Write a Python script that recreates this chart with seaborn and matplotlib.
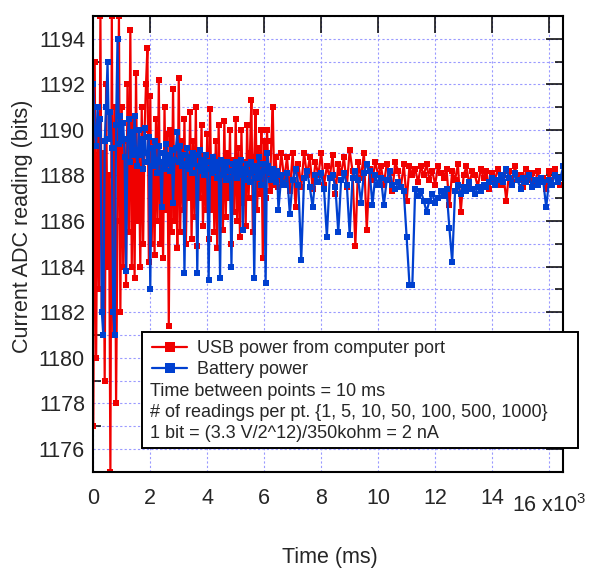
import numpy as np
import pandas as pd
import seaborn as sns
import matplotlib.pyplot as plt
from matplotlib.lines import Line2D
from matplotlib.patches import Rectangle
from matplotlib.ticker import MultipleLocator

sns.set_theme(style="white")
plt.rcParams["font.family"] = ["Liberation Sans", "DejaVu Sans"]
plt.rcParams["mathtext.fontset"] = "custom"
plt.rcParams["mathtext.rm"] = "Liberation Sans"

# first 6.5 s read every 50 ms, the rest every 100 ms
t_early = np.arange(0, 6500, 50)
t_late = np.arange(6500, 16600, 100)

usb_early = [
    1177, 1193, 1180, 1190, 1183, 1195, 1182, 1189, 1179, 1192,
    1184, 1188, 1175, 1195, 1181, 1191, 1178, 1186, 1195, 1182,
    1191, 1184, 1189.5, 1183.2, 1192, 1185.5, 1194.4, 1184, 1190.5, 1183.5,
    1192.5, 1186, 1189, 1184, 1191, 1185, 1190, 1192, 1193.6, 1184.2,
    1191.5, 1185, 1189.5, 1184.5, 1190.5, 1186, 1192.2, 1185, 1188.5, 1184.4,
    1191, 1186.5, 1189.8, 1181.4, 1190, 1185.5, 1191.8, 1186, 1189, 1184.8,
    1192.3, 1185.5, 1189.5, 1186.5, 1190.5, 1185, 1188.8, 1187, 1190.8, 1185.2,
    1189.5, 1186.2, 1191, 1184.9, 1189, 1187, 1190.2, 1185.8, 1188.5, 1186.5,
    1189.8, 1185.2, 1190.9, 1186.5, 1188.8, 1185.5, 1189.5, 1184.8, 1190.2, 1186.8,
    1188.5, 1185.6, 1190.4, 1186.2, 1189, 1187, 1190, 1185, 1188.7, 1186.4,
    1190.5, 1186, 1189.2, 1185.3, 1190, 1186.8, 1188.6, 1185.8, 1190.2, 1187,
    1189, 1191.3, 1185.5, 1188.8, 1190.8, 1186.5, 1189.2, 1187.2, 1190, 1184.4,
    1189.5, 1187, 1190, 1188, 1187.3, 1189.5, 1191, 1187.6, 1188.8, 1187.8,
]
usb_late = [
    1187.5, 1189, 1187.8, 1188.8, 1187.3,
    1189, 1186.6, 1188.5, 1187.5, 1189, 1188, 1188.8, 1187.4, 1188.6, 1188,
    1189, 1187.6, 1188.4, 1187.9, 1188.9, 1187.2, 1188.5, 1188.1, 1188.8, 1187.5,
    1189.1, 1188.2, 1184.9, 1188.6, 1187.9, 1189, 1185.6, 1188.3, 1187.8, 1188.6,
    1188, 1188.4, 1187.6, 1188.5, 1188.1, 1187.3, 1188.6, 1188.2, 1187.5, 1188.5,
    1186.9, 1188.4, 1188, 1188.3, 1187.7, 1188.4, 1188.0, 1188.5, 1187.8, 1188.2,
    1187.6, 1188.4, 1188.1, 1187.9, 1188.3, 1186.7, 1188.2, 1187.8, 1188.5, 1186.4,
    1188.0, 1188.4, 1187.6, 1188.2, 1188.0, 1187.5, 1188.3, 1187.9, 1188.2, 1187.4,
    1188.1, 1187.8, 1188.3, 1187.6, 1188.0, 1186.9, 1188.2, 1187.7, 1188.4, 1187.9,
    1188.0, 1187.5, 1188.3, 1187.8, 1188.1, 1187.6, 1188.2, 1187.7, 1187.9, 1187.4,
    1188.2, 1187.6, 1188.3, 1187.8, 1187.6, 1187.6,
]

battery_early = [
    1192, 1190, 1189.3, 1191, 1189.8, 1190.5, 1182, 1181, 1189.5, 1191,
    1193, 1189.6, 1190.8, 1189.2, 1182, 1181, 1190.2, 1194, 1189.4, 1190.6,
    1189.5, 1190.3, 1188.8, 1183.8, 1189.6, 1190.5, 1188.6, 1189.9, 1188.9, 1190.6,
    1189.1, 1188.4, 1190, 1188.9, 1189.6, 1188.3, 1190.1, 1189, 1188.6, 1189.7,
    1183, 1189.2, 1188.4, 1189.5, 1188.7, 1188.1, 1189.3, 1188.6, 1186.6, 1189,
    1188.3, 1189.4, 1188.5, 1188.9, 1188.2, 1189.1, 1186.8, 1188.7, 1189.2, 1189.9,
    1188.6, 1189.3, 1188.4, 1188.9, 1183.7, 1188.5, 1189.2, 1188.3, 1188.8, 1188.1,
    1189, 1188.5, 1188.9, 1183.7, 1188.4, 1189.1, 1188.2, 1188.7, 1188.0, 1188.9,
    1188.3, 1183.4, 1188.6, 1188.1, 1188.8, 1188.2, 1188.6, 1187.9, 1188.5, 1183.5,
    1188.7, 1188.0, 1188.4, 1187.8, 1188.6, 1188.2, 1187.9, 1184, 1188.5, 1188.1,
    1188.6, 1187.9, 1188.4, 1188.0, 1188.7, 1185.6, 1188.3, 1187.8, 1188.5, 1188.1,
    1187.7, 1188.6, 1188.2, 1183.5, 1188.4, 1187.9, 1188.8, 1188.1, 1187.6, 1188.5,
    1188.2, 1183.3, 1189, 1188.4, 1188.1, 1187.8, 1188.3, 1188.0, 1187.7, 1188.2,
]
battery_late = [
    1186.5, 1188, 1187.6, 1188.1, 1186.3,
    1187.8, 1188.3, 1187.6, 1184.3, 1187.9, 1188.2, 1187.5, 1186.6, 1188, 1187.7,
    1188.1, 1187.4, 1185.3, 1187.9, 1188, 1187.5, 1185.5, 1187.8, 1188.1, 1187.6,
    1185.4, 1187.9, 1188.2, 1187.8, 1186.8, 1188.1, 1188.5, 1188.2, 1186.7, 1188,
    1187.6, 1187.9, 1186.7, 1187.8, 1188.2, 1187.6, 1187.4, 1187.7, 1187.5, 1187.3,
    1185.3, 1183.2, 1183.2, 1187.4, 1187.1, 1187.3, 1186.9, 1186.4, 1186.9, 1187.2,
    1186.8, 1187.0, 1187.3, 1187.1, 1187.4, 1185.7, 1184.2, 1187.3, 1187.6, 1187.2,
    1187.5, 1187.3, 1187.7, 1187.4, 1187.2, 1187.5, 1187.3, 1187.6, 1187.5, 1187.7,
    1187.9, 1187.6, 1187.8, 1188.0, 1187.7, 1188.3, 1187.9, 1187.6, 1188.1, 1187.8,
    1187.4, 1187.9, 1187.7, 1188.0, 1187.5, 1187.8, 1187.6, 1187.9, 1187.7, 1186.6,
    1187.8, 1187.6, 1188.0, 1187.7, 1187.9, 1188.4,
]

x_ticks = [0, 2000, 4000, 6000, 8000, 10000, 12000, 14000, 16000]
x_labels = ["0", "2", "4", "6", "8", "10", "12", "14", ""]

legend_labels = ["USB power from computer port", "Battery power"]
notes = [
    "Time between points = 10 ms",
    "# of readings per pt. {1, 5, 10, 50, 100, 500, 1000}",
    "1 bit = (3.3 V/2^12)/350kohm = 2 nA",
]

red = "#f00000"
blue = "#0040d0"

t_all = np.concatenate([t_early, t_late])
df_usb = pd.DataFrame({"t": t_all, "v": usb_early + usb_late})
df_bat = pd.DataFrame({"t": t_all, "v": battery_early + battery_late})

W, H = 592, 570
fig = plt.figure(figsize=(W / 100, H / 100), dpi=100)
ax = fig.add_axes([93.3 / W, 1 - 471.7 / H, 470 / W, 455.7 / H])

sns.lineplot(data=df_usb, x="t", y="v", ax=ax, color=red, lw=1.6,
             marker="s", markersize=4.2, markeredgewidth=0, estimator=None)
sns.lineplot(data=df_bat, x="t", y="v", ax=ax, color=blue, lw=1.6,
             marker="s", markersize=4.2, markeredgewidth=0, estimator=None)

ax.set_xlim(0, 16500)
ax.set_ylim(1175, 1195)
ax.set_xticks(x_ticks)
ax.set_xticklabels(x_labels)
ax.yaxis.set_major_locator(MultipleLocator(2))
ax.yaxis.set_minor_locator(MultipleLocator(1))
ax.set_xlabel("")
ax.set_ylabel("")

gc = "#9a9aff"
ax.grid(True, which="major", axis="x", color=gc, lw=0.8, ls=(0, (2, 2)))
ax.grid(True, which="both", axis="y", color=gc, lw=0.8, ls=(0, (2, 2)))
ax.set_axisbelow(True)

for s in ax.spines.values():
    s.set_visible(True)
    s.set_color("black")
    s.set_linewidth(1.5)

ax.tick_params(axis="both", which="major", direction="in", length=12, width=1.1,
               top=True, right=True, color="black", labelsize=15.5)
ax.tick_params(axis="y", which="minor", direction="in", length=5.5, width=1.1,
               left=True, right=True, color="black")
ax.tick_params(axis="x", which="major", pad=11.5)
ax.tick_params(axis="y", which="major", pad=6)

fig.text(512 / W, 1 - 506 / H, "16 x10$^{3}$", fontsize=15.5, ha="left", va="center")
fig.text(330 / W, 1 - 558 / H, "Time (ms)", fontsize=15.5, ha="center", va="center")
fig.text(23 / W, 1 - 226 / H, "Current ADC reading (bits)", fontsize=15.5,
         rotation=90, ha="center", va="center")

# annotation box
box = Rectangle((142 / W, 1 - 448 / H), 436 / W, 116 / H, transform=fig.transFigure,
                facecolor="white", edgecolor="black", lw=1.4, zorder=10, clip_on=False)
fig.add_artist(box)

handles = [
    Line2D([], [], color=red, lw=1.6, marker="s", markersize=6.5, markeredgewidth=0),
    Line2D([], [], color=blue, lw=1.6, marker="s", markersize=6.5, markeredgewidth=0),
]
leg = fig.legend(handles, legend_labels, loc="upper left",
                 bbox_to_anchor=(152 / W, 1 - 340 / H), frameon=False, fontsize=13,
                 handlelength=1.95, handletextpad=0.55, borderpad=0, borderaxespad=0,
                 labelspacing=0.24)
leg.set_zorder(11)

for row_y, note in zip([391, 412.5, 434], notes):
    fig.text(150 / W, 1 - row_y / H, note, fontsize=13, ha="left", va="center", zorder=11)

fig.savefig("out.png", dpi=100)
